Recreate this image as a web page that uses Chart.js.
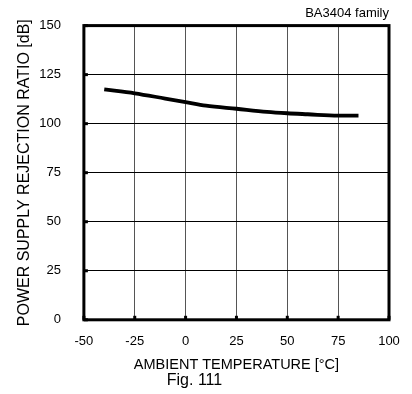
<!DOCTYPE html>
<html>
<head>
<meta charset="utf-8">
<script src="https://cdn.jsdelivr.net/npm/chart.js@4.4.1/dist/chart.umd.min.js"></script>
<style>
  html, body { margin: 0; padding: 0; background: #fff; }
  #wrap { width: 412px; height: 394px; }
</style>
</head>
<body>
<div id="wrap"><canvas id="psrr" width="412" height="394"></canvas></div>
<script>
// values
const temps = [-40, -25, -10, 0, 10, 25, 40, 50, 60, 75, 85]
const psrr = [117.5, 115.5, 112.8, 111, 109.2, 107.6, 106, 105.3, 104.8, 104.1, 104.1]
const xTicks = [-50, -25, 0, 25, 50, 75, 100]
const yTicks = [0, 25, 50, 75, 100, 125, 150]

const font = 'Arial, "Liberation Sans", sans-serif'

// thick frame + little tick marks inside the axes
const frame = {
  id: 'frame',
  afterDraw(chart) {
    const { ctx, chartArea: a, scales } = chart
    ctx.save()
    ctx.strokeStyle = '#000'
    ctx.fillStyle = '#000'
    yTicks.forEach(v => {
      const y = scales.y.getPixelForValue(v)
      ctx.fillRect(a.left, y - 1.5, 4, 3)
    })
    xTicks.forEach(v => {
      const x = scales.x.getPixelForValue(v)
      ctx.fillRect(x - 1.5, a.bottom - 4, 3, 4)
    })
    ctx.lineWidth = 3
    ctx.strokeRect(a.left, a.top, a.right - a.left, a.bottom - a.top)
    ctx.restore()
  }
}

const cfg = {
  type: 'line',
  data: {
    datasets: [
      {
        data: temps.map((t, i) => ({ x: t, y: psrr[i] })),
        borderColor: '#000',
        borderWidth: 3.8,
        pointRadius: 0,
        cubicInterpolationMode: 'monotone',
      },
    ],
  },
  options: {
    responsive: false,
    animation: false,
    layout: { padding: { left: 0, right: 23, top: 0, bottom: 2 } },
    plugins: {
      legend: { display: false },
      tooltip: { enabled: false },
      title: {
        display: true,
        text: 'BA3404 family',
        align: 'end',
        color: '#000',
        font: { family: font, size: 13, weight: 'normal' },
        padding: { top: 6, bottom: 4 },
      },
      subtitle: {
        display: true,
        position: 'bottom',
        text: 'Fig. 111',
        color: '#000',
        font: { family: font, size: 16, weight: 'normal' },
        padding: { top: 0, bottom: 2 },
      },
    },
    scales: {
      x: {
        type: 'linear',
        min: -50,
        max: 100,
        afterBuildTicks: s => { s.ticks = xTicks.map(v => ({ value: v })) },
        grid: { color: '#555', lineWidth: 1, drawTicks: true, tickLength: 11, tickColor: 'rgba(0,0,0,0)' },
        border: { display: false },
        ticks: { color: '#000', padding: 3, font: { family: font, size: 13 } },
        title: {
          display: true,
          text: 'AMBIENT TEMPERATURE [°C]',
          color: '#000',
          font: { family: font, size: 14.5 },
          padding: { top: 4, bottom: -3 },
        },
      },
      y: {
        min: 0,
        max: 150,
        afterBuildTicks: s => { s.ticks = yTicks.map(v => ({ value: v })) },
        grid: { color: '#000', lineWidth: 1, drawTicks: true, tickLength: 20, tickColor: 'rgba(0,0,0,0)' },
        border: { display: false },
        ticks: { color: '#000', padding: 3, font: { family: font, size: 13 } },
        title: {
          display: true,
          text: 'POWER SUPPLY REJECTION RATIO [dB]',
          color: '#000',
          font: { family: font, size: 16 },
          padding: { top: 15, bottom: 2 },
        },
      },
    },
  },
  plugins: [frame],
}

window.psrrChart = new Chart(document.getElementById('psrr'), cfg)
</script>
</body>
</html>
